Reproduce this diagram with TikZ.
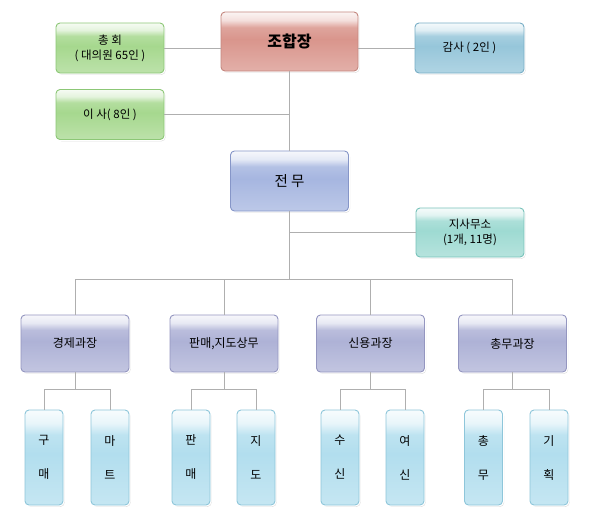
\documentclass[tikz,border=0pt]{standalone}
\usepackage{fontspec}
\setmainfont{Noto Sans CJK KR}
\usetikzlibrary{shadows}

\definecolor{jangfill}{HTML}{D9958C}
\definecolor{jangline}{HTML}{C4877F}
\definecolor{grfill}{HTML}{A6D88E}
\definecolor{grline}{HTML}{8CC776}
\definecolor{gamfill}{HTML}{96C6DA}
\definecolor{gamline}{HTML}{78AEC6}
\definecolor{jmfill}{HTML}{A6B6E0}
\definecolor{jmline}{HTML}{8696C8}
\definecolor{jsfill}{HTML}{9EDAD2}
\definecolor{jsline}{HTML}{78C2BA}
\definecolor{deptfill}{HTML}{AEB2D6}
\definecolor{deptline}{HTML}{9496C0}
\definecolor{teamfill}{HTML}{B2DEEE}
\definecolor{teamline}{HTML}{8EC6DA}
\definecolor{linkgray}{HTML}{AFAFAF}

\pgfdeclareverticalshading[glosscol]{gloss}{100bp}{color(0bp)=(glosscol!75!white); color(25bp)=(glosscol!75!white); color(52bp)=(glosscol); color(62bp)=(glosscol!85!white); color(68bp)=(glosscol!30!white); color(75bp)=(glosscol!10!white); color(100bp)=(glosscol!10!white)}

\tikzset{
  box/.style 2 args={/utils/exec={\colorlet{glosscol}{#1}}, shading=gloss, draw=#2,
    line width=0.9pt, rounded corners=4pt, align=center, inner sep=0pt,
    drop shadow={shadow xshift=1.5pt, shadow yshift=-1.8pt, opacity=0.3},
    preaction={draw=white, line width=3.4pt},
    font=\fontsize{11.5}{15}\selectfont},
  jangbox/.style={box={jangfill}{jangline}, minimum width=137pt, minimum height=59pt,
    font=\fontsize{16}{18}\selectfont\bfseries},
  grbox/.style={box={grfill}{grline}, minimum width=108pt, minimum height=50pt},
  gambox/.style={box={gamfill}{gamline}, minimum width=109pt, minimum height=50pt},
  jmbox/.style={box={jmfill}{jmline}, minimum width=118pt, minimum height=60pt,
    font=\fontsize{14.5}{17}\selectfont},
  jsbox/.style={box={jsfill}{jsline}, minimum width=108pt, minimum height=49pt},
  deptbox/.style={box={deptfill}{deptline}, minimum width=108pt, minimum height=57pt,
    font=\fontsize{12}{15}\selectfont},
  teambox/.style={box={teamfill}{teamline}, minimum width=38pt, minimum height=95pt,
    font=\fontsize{12}{34}\selectfont},
  link/.style={draw=linkgray, line width=1pt}
}

\begin{document}
\begin{tikzpicture}[x=1pt,y=-1pt]
\useasboundingbox (0,0) rectangle (590,520);
\node[jangbox] (jhj) at (289.5,41.5) {조합장};
\node[grbox] (chonghoe) at (110,48) {총 회\\( 대의원 65인 )};
\node[gambox] (gamsa) at (469.5,48) {감사 ( 2인 )};
\node[grbox] (isa) at (110,114.5) {이 사( 8인 )};
\node[jmbox] (jeonmu) at (289.5,181) {전 무};
\node[jsbox] (jisa) at (470,232.5) {지사무소\\(1개, 11명)};
\node[deptbox] (d1) at (75,343.5) {경제과장};
\node[deptbox] (d2) at (224,343.5) {판매,지도상무};
\node[deptbox] (d3) at (370.5,343.5) {신용과장};
\node[deptbox] (d4) at (512.5,343.5) {총무과장};
\node[teambox] (c1) at (44,457.5) {구\\매};
\node[teambox] (c2) at (110,457.5) {마\\트};
\node[teambox] (c3) at (191,457.5) {판\\매};
\node[teambox] (c4) at (256,457.5) {지\\도};
\node[teambox] (c5) at (340,457.5) {수\\신};
\node[teambox] (c6) at (405,457.5) {여\\신};
\node[teambox] (c7) at (483.5,457.5) {총\\무};
\node[teambox] (c8) at (549,457.5) {기\\획};
\draw[link] (chonghoe.east) -- (chonghoe.east -| jhj.west);
\draw[link] (gamsa.west) -- (gamsa.west -| jhj.east);
\draw[link] (jhj.south) -- (jeonmu.north);
\draw[link] (isa.east) -- (isa.east -| jhj.south);
\draw[link] (jisa.west) -- (jisa.west -| jeonmu.south);
\draw[link] (jeonmu.south) -- ++(0,68) coordinate (bus);
\draw[link] (d1.north) |- (bus) -| (d4.north);
\draw[link] (d2.north) -- (d2.north |- bus);
\draw[link] (d3.north) -- (d3.north |- bus);
\draw[link] (d1.south) -- ++(0,17) coordinate (s1);
\draw[link] (c1.north) |- (s1) -| (c2.north);
\draw[link] (d2.south) -- ++(0,17) coordinate (s2);
\draw[link] (c3.north) |- (s2) -| (c4.north);
\draw[link] (d3.south) -- ++(0,17) coordinate (s3);
\draw[link] (c5.north) |- (s3) -| (c6.north);
\draw[link] (d4.south) -- ++(0,17) coordinate (s4);
\draw[link] (c7.north) |- (s4) -| (c8.north);
\end{tikzpicture}
\end{document}
